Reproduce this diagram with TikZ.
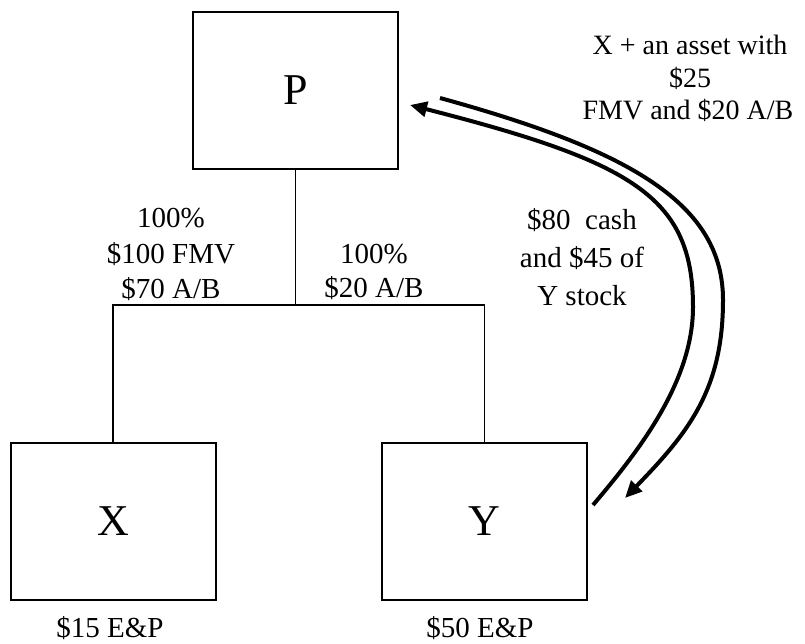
\documentclass[tikz,border=0pt]{standalone}
\usepackage{fontspec}
\setmainfont{Liberation Serif}
\usetikzlibrary{arrows.meta}

\begin{document}
\begin{tikzpicture}[x=1pt,y=-1pt,
  entity/.style={draw,line width=2pt,inner sep=0pt,minimum width=205pt,minimum height=157pt,font=\fontsize{44}{50}\selectfont},
  lbl/.style={anchor=base,inner sep=0pt,font=\fontsize{29}{35}\selectfont},
  lblsm/.style={anchor=base,inner sep=0pt,font=\fontsize{28}{32}\selectfont},
  tie/.style={line width=1.4pt},
  flow/.style={line width=4pt,-{Triangle[length=17pt,width=15pt]}}]
\useasboundingbox (0,0) rectangle (805,644);

% entities
\node[entity] (P) at (295.5,90.5) {P};
\node[entity] (X) at (113,521) {X};
\node[entity] (Y) at (484.5,521) {Y};

% ownership lines
\coordinate (j) at (295.5,305);
\draw[tie] (P.south) -- (j);
\draw[tie] (X.north) |- (j) -| (Y.north);

% ownership labels
\node[lbl] (l1) at (171,228) {100\%};
\node[lbl] (l2) at (171,263) {\$100 FMV};
\node[lbl] (l3) at (171,298) {\$70 A/B};
\node[lbl] (r1) at (374,263) {100\%};
\node[lbl] (r2) at (374,297) {\$20 A/B};

% E&P labels
\node[lbl] (ex) at (110,637) {\$15 E\&P};
\node[lbl] (ey) at (480,637) {\$50 E\&P};

% transfer labels
\node[lbl] (c1) at (582,230) {\$80\ \ cash};
\node[lbl] (c2) at (582,267) {and \$45 of};
\node[lbl] (c3) at (582,305) {Y stock};
\node[lblsm] (t1) at (690,55) {X + an asset with};
\node[lblsm] (t2) at (690,88) {\$25};
\node[lblsm] (t3) at (688,120) {FMV and \$20 A/B};

% exchange arrows: Y -> P (inner) and P -> Y (outer)
\coordinate (ys) at (593,505);
\coordinate (pe) at (410,105);
\coordinate (ps) at (440,98);
\coordinate (ye) at (625,498);
\coordinate (im) at (693,307);
\coordinate (om) at (723,300);
\draw[flow] (ys) .. controls (638,452) and (693,382) .. (im)
                 .. controls (693,197) and (633,162) .. (pe);
\draw[flow] (ps) .. controls (633,151) and (723,205) .. (om)
                 .. controls (723,390) and (688,433) .. (ye);
\end{tikzpicture}
\end{document}
